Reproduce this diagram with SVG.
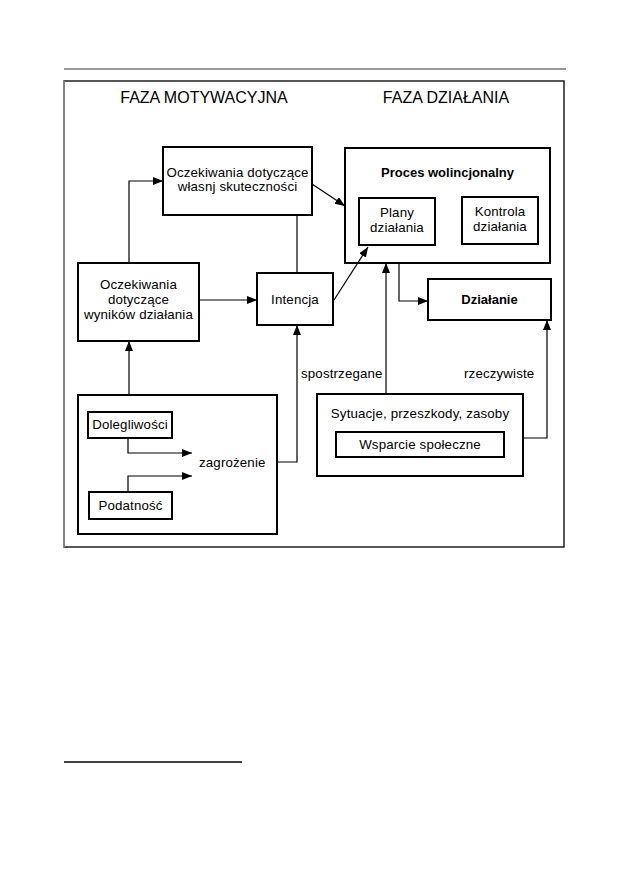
<svg xmlns="http://www.w3.org/2000/svg" width="629" height="893" viewBox="0 0 629 893">
<style>
  text { font-family: "Liberation Sans", Arial, sans-serif; fill: #000; }
  .t { font-size: 13.3px; text-anchor: middle; letter-spacing: 0.15px; }
  .tl { font-size: 13.3px; text-anchor: start; letter-spacing: 0.15px; }
  .h { font-size: 16px; text-anchor: middle; }
  .b { font-size: 13px; font-weight: bold; text-anchor: middle; }
  .box { fill: #fff; stroke: #000; stroke-width: 2; }
  .con { fill: none; stroke: #000; stroke-width: 1.2; }
</style>
<defs>
  <marker id="arr" markerUnits="userSpaceOnUse" markerWidth="11" markerHeight="9" refX="10" refY="4" orient="auto">
    <path d="M0,0 L10,4 L0,8 z" fill="#000"/>
  </marker>
</defs>
<rect width="629" height="893" fill="#fff"/>
<line x1="64" y1="69" x2="566" y2="69" stroke="#777" stroke-width="1.3"/>
<rect x="64" y="81" width="500" height="466" fill="none" stroke="#111" stroke-width="1.4"/>
<line x1="64" y1="81" x2="64" y2="547" stroke="#999" stroke-width="1.4"/>
<line x1="64" y1="762" x2="242" y2="762" stroke="#000" stroke-width="1.6"/>
<g id="headings">
  <text class="h" x="204" y="103">FAZA MOTYWACYJNA</text>
  <text class="h" x="446" y="103">FAZA DZIAŁANIA</text>
</g>
<g id="n-self">
  <rect class="box" x="163" y="147" width="149" height="68"/>
  <text class="t" x="237.5" y="177">Oczekiwania dotyczące</text>
  <text class="t" x="237.5" y="191">własnj skuteczności</text>
</g>
<g id="n-outcome">
  <rect class="box" x="78" y="263" width="121" height="78"/>
  <text class="t" x="138.5" y="289">Oczekiwania</text>
  <text class="t" x="138.5" y="304">dotyczące</text>
  <text class="t" x="138.5" y="319">wyników działania</text>
</g>
<g id="n-intention">
  <rect class="box" x="257" y="273" width="76" height="52"/>
  <text class="t" x="295" y="304">Intencja</text>
</g>
<g id="n-volitional">
  <rect class="box" x="345" y="148" width="205" height="115"/>
  <text class="b" x="447.5" y="177">Proces wolincjonalny</text>
</g>
<g id="n-plans">
  <rect class="box" x="359" y="198" width="76" height="47"/>
  <text class="t" x="397" y="217">Plany</text>
  <text class="t" x="397" y="232">działania</text>
</g>
<g id="n-control">
  <rect class="box" x="462" y="197" width="76" height="47"/>
  <text class="t" x="500" y="216">Kontrola</text>
  <text class="t" x="500" y="231">działania</text>
</g>
<g id="n-action">
  <rect class="box" x="428" y="279" width="123" height="41"/>
  <text class="b" x="489.5" y="304">Działanie</text>
</g>
<g id="n-threat">
  <rect class="box" x="78" y="395" width="199" height="139"/>
  <text class="tl" x="199" y="467">zagrożenie</text>
</g>
<g id="n-severity">
  <rect class="box" x="88" y="412" width="84" height="26"/>
  <text class="t" x="130" y="429">Dolegliwości</text>
</g>
<g id="n-susceptibility">
  <rect class="box" x="89" y="492" width="83" height="27"/>
  <text class="t" x="130.5" y="510">Podatność</text>
</g>
<g id="n-situations">
  <rect class="box" x="317" y="394" width="206" height="82"/>
  <text class="t" x="420" y="418">Sytuacje, przeszkody, zasoby</text>
</g>
<g id="n-support">
  <rect class="box" x="336" y="432" width="168" height="25"/>
  <text class="t" x="420" y="449">Wsparcie społeczne</text>
</g>
<g id="connectors">
  <path class="con" d="M129,263 V181 H163" marker-end="url(#arr)"/>
  <path class="con" d="M297,215 V273"/>
  <path class="con" d="M312,184 L345,206" marker-end="url(#arr)"/>
  <path class="con" d="M199,300 H257" marker-end="url(#arr)"/>
  <path class="con" d="M334,300 L368,247" marker-end="url(#arr)"/>
  <path class="con" d="M129,395 V341" marker-end="url(#arr)"/>
  <path class="con" d="M128,438 V453 H192" marker-end="url(#arr)"/>
  <path class="con" d="M128,492 V476 H192" marker-end="url(#arr)"/>
  <path class="con" d="M277,462 H297 V325" marker-end="url(#arr)"/>
  <path class="con" d="M386,394 V263" marker-end="url(#arr)"/>
  <path class="con" d="M399,263 V301 H428" marker-end="url(#arr)"/>
  <path class="con" d="M523,438 H547 V320" marker-end="url(#arr)"/>
  <text class="tl" x="301" y="378">spostrzegane</text>
  <text class="tl" x="464" y="378">rzeczywiste</text>
</g>
</svg>
